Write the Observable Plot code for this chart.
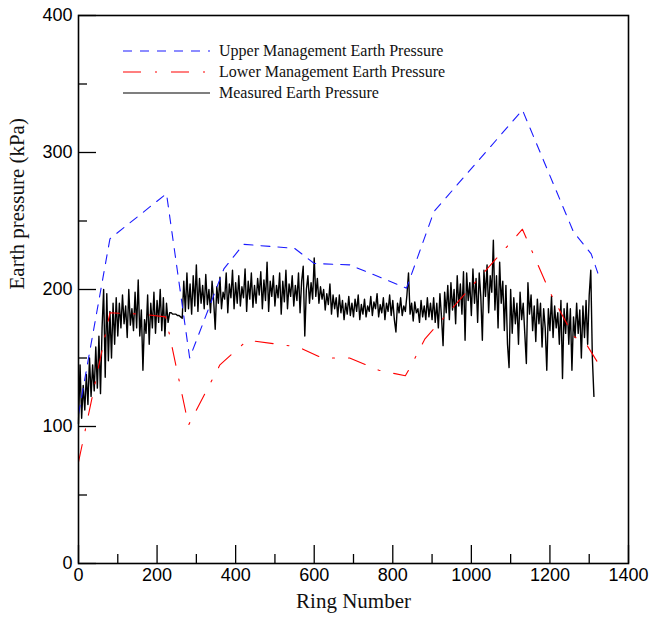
<!DOCTYPE html>
<html><head><meta charset="utf-8">
<script src="https://cdn.jsdelivr.net/npm/d3@7"></script>
<script src="https://cdn.jsdelivr.net/npm/@observablehq/plot@0.6"></script>
<style>
body{margin:0;background:#fff;}
#wrap{position:relative;width:651px;height:621px;}
#wrap svg.chart{position:absolute;left:0;top:0;}
#legend{position:absolute;left:123px;top:40px;font-family:"Liberation Serif",serif;font-size:16px;color:#111;z-index:2;}
.row{display:flex;align-items:center;height:21px;white-space:nowrap;}
.row svg{margin-right:9px;display:block;}
</style></head><body>
<div id="wrap"></div>
<script>
// ---- data ----
const seriesNames = ["Upper Management Earth Pressure", "Lower Management Earth Pressure", "Measured Earth Pressure"];

const upperRing = [0, 80, 224, 283, 370, 420, 550, 600, 690, 835, 905, 1130, 1260, 1305, 1322];
const upperKPa  = [109, 237, 270, 150, 215, 233, 230, 219, 218, 201, 257, 331, 242, 226, 212];

const lowerRing = [0, 80, 160, 222, 280, 360, 430, 560, 620, 690, 765, 832, 842, 882, 1130, 1200, 1260, 1295, 1321];
const lowerKPa  = [74, 183, 182, 180, 101, 145, 163, 158, 150, 150, 141, 137, 142, 164, 244, 198, 166, 159, 147];

const measuredRingStep = 4;
const measuredKPa = [
  102,145,106,130,112,138,116,150,122,145,126,158,128,166,124,172,200,136,197,148,184,150,190,160,194,
  166,190,172,196,175,188,165,200,174,186,170,198,172,207,166,185,141,178,168,196,160,190,172,198,168,
  192,176,200,170,194,166,190,176,183,183,182,182,182,181,181,180,179,206,184,212,186,204,182,210,188,
  218,184,208,190,203,186,211,189,200,183,206,192,171,202,190,209,186,198,193,212,183,204,194,214,186,
  205,190,210,188,202,194,215,184,206,193,212,187,203,190,208,196,213,186,207,192,220,184,206,195,210,
  188,203,194,212,182,206,191,214,186,204,195,210,188,203,192,212,183,206,217,166,200,210,190,205,193,
  223,195,208,190,202,193,200,185,197,189,204,182,196,186,194,180,196,183,192,178,190,182,195,181,190,
  180,193,184,196,178,189,182,193,180,188,184,195,181,191,186,197,180,189,183,194,178,190,184,196,181,
  192,178,169,190,183,194,181,188,184,196,212,182,190,177,191,183,186,176,192,180,188,178,194,180,190,
  178,194,176,190,172,197,180,159,198,183,203,178,205,185,200,175,210,188,204,182,213,163,212,192,205,
  181,215,190,208,176,212,195,163,214,195,218,183,210,198,236,185,210,172,220,190,206,170,203,160,143,
  200,168,194,175,190,160,198,178,190,168,146,205,182,196,170,188,162,193,175,190,158,186,172,141,186,
  170,195,165,188,172,183,160,192,135,186,168,190,160,186,141,180,165,190,168,185,150,188,165,192,160,196,214,150,122
];

const xMajor = [0, 200, 400, 600, 800, 1000, 1200, 1400];
const xMinor = [100, 300, 500, 700, 900, 1100, 1300];
const yMajor = [0, 100, 200, 300, 400];
const yMinor = [50, 150, 250, 350];

// ---- build tables ----
const upper = upperRing.map((r, i) => ({ring: r, kpa: upperKPa[i]}));
const lower = lowerRing.map((r, i) => ({ring: r, kpa: lowerKPa[i]}));
const measured = measuredKPa.map((v, i) => ({ring: i * measuredRingStep, kpa: v}));

const W = 651, H = 621;
const mL = 78, mR = 23, mT = 15, mB = 58;
const pxPerX = (W - mL - mR) / 1400, pxPerY = (H - mT - mB) / 400;
const majLen = 18, minLen = 9;

const styles = [
  {color: "#1a1aff", dash: "9,8"},
  {color: "#ff0000", dash: "18,14,2,14"},
  {color: "#000000", dash: null}
];

const chart = Plot.plot({
  width: W, height: H,
  marginLeft: mL, marginRight: mR, marginTop: mT, marginBottom: mB,
  x: {domain: [0, 1400]},
  y: {domain: [0, 400]},
  style: {background: "white", color: "black"},
  marks: [
    Plot.line(measured, {x: "ring", y: "kpa", stroke: styles[2].color, strokeWidth: 1.4}),
    Plot.line(upper, {x: "ring", y: "kpa", stroke: styles[0].color, strokeWidth: 1.1, strokeDasharray: styles[0].dash}),
    Plot.line(lower, {x: "ring", y: "kpa", stroke: styles[1].color, strokeWidth: 1.1, strokeDasharray: styles[1].dash}),
    Plot.ruleX(xMajor, {x: d => d, y1: 0, y2: majLen / pxPerY, stroke: "black", strokeWidth: 1.3}),
    Plot.ruleX(xMinor, {x: d => d, y1: 0, y2: minLen / pxPerY, stroke: "black", strokeWidth: 1.3}),
    Plot.ruleY(yMajor, {y: d => d, x1: 0, x2: majLen / pxPerX, stroke: "black", strokeWidth: 1.3}),
    Plot.ruleY(yMinor, {y: d => d, x1: 0, x2: minLen / pxPerX, stroke: "black", strokeWidth: 1.3}),
    Plot.frame({stroke: "black", strokeWidth: 1.6}),
    Plot.axisX(xMajor, {tickSize: 0, tickPadding: 5, fontSize: 18, fontFamily: "Liberation Sans", label: null, tickFormat: d => String(d)}),
    Plot.axisY(yMajor, {tickSize: 0, tickPadding: 6, fontSize: 18, fontFamily: "Liberation Sans", label: null, tickFormat: d => String(d)}),
    Plot.text(["Ring Number"], {text: d => d, frameAnchor: "bottom", dy: 44, fontSize: 21, fontFamily: "Liberation Serif", fill: "#111"}),
    Plot.text(["Earth pressure (kPa)"], {text: d => d, frameAnchor: "left", dx: -61, rotate: -90, fontSize: 21, fontFamily: "Liberation Serif", fill: "#111"})
  ]
});
chart.classList.add("chart");
const wrap = document.getElementById("wrap");
wrap.appendChild(chart);

// ---- legend ----
const legend = document.createElement("div");
legend.id = "legend";
seriesNames.forEach((name, i) => {
  const row = document.createElement("div");
  row.className = "row";
  const s = styles[i];
  row.innerHTML = `<svg width="87" height="4"><line x1="0" y1="2" x2="87" y2="2" stroke="${s.color}" stroke-width="1.2" ${s.dash ? `stroke-dasharray="${s.dash}"` : ""}/></svg><span>${name}</span>`;
  legend.appendChild(row);
});
wrap.appendChild(legend);
</script></body></html>
